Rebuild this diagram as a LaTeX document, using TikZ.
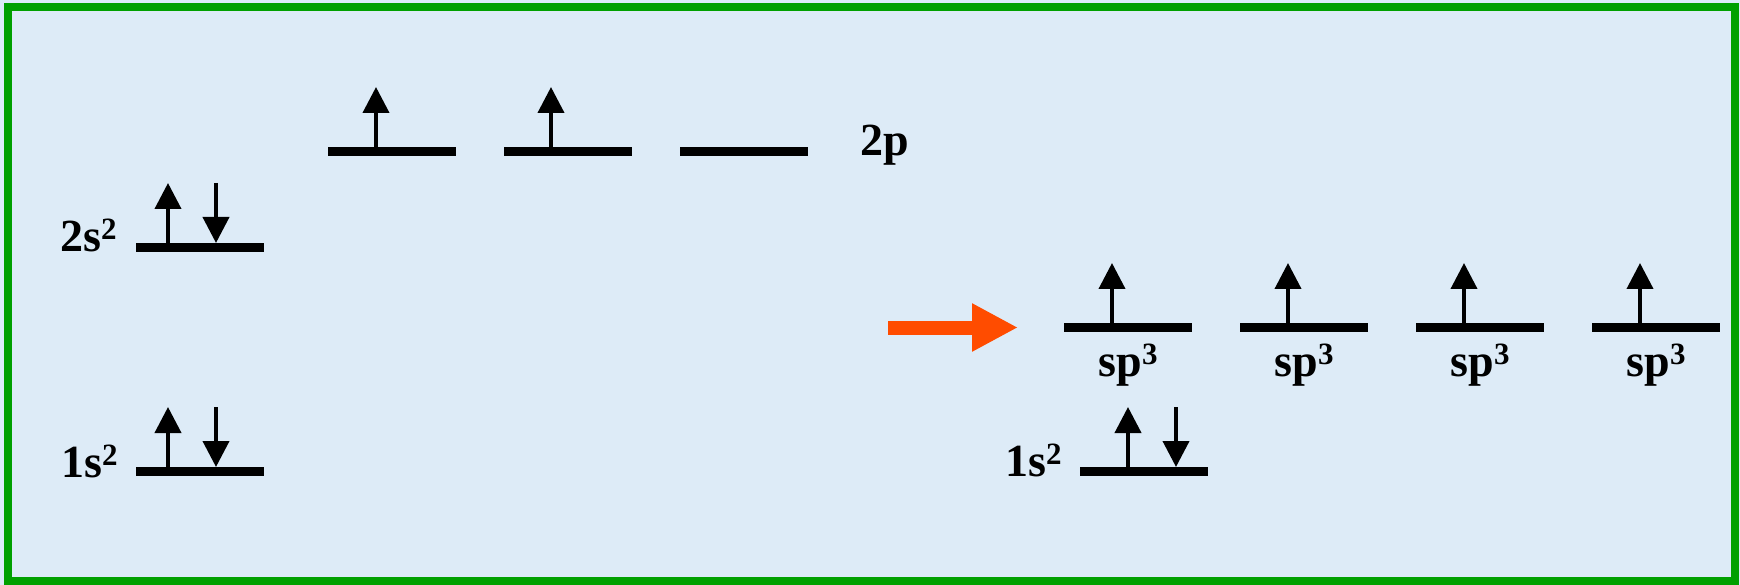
\documentclass[tikz,border=0pt]{standalone}
\usepackage{fontspec}
\setmainfont{Liberation Serif}
\usetikzlibrary{arrows.meta}
\definecolor{bgblue}{RGB}{221,235,247}
\definecolor{framegreen}{RGB}{0,160,0}
\definecolor{orng}{RGB}{255,76,0}
\newcommand{\supr}[1]{{\fontsize{31}{31}\selectfont\raisebox{12pt}{#1}}}
\begin{document}
\begin{tikzpicture}[x=1pt,y=-1pt,
  orbital/.style={line width=9pt},
  electron/.style={line width=4pt,-{Triangle[width=26pt,length=26pt]}},
  lbl/.style={font=\fontsize{46}{54}\selectfont\bfseries, inner sep=0pt, text=black},
]
\useasboundingbox (0,0) rectangle (1740,585);
\fill[bgblue] (0,0) rectangle (1740,585);
\draw[framegreen, line width=8pt] (8,7) rectangle (1735,581);

% left side levels
\draw[orbital] (136,247.5) coordinate (s2L) -- (264,247.5) coordinate (s2R);
\draw[orbital] (136,471.5) coordinate (s1L) -- (264,471.5) coordinate (s1R);
\draw[orbital] (328,151.5) coordinate (pa) -- (456,151.5);
\draw[orbital] (504,151.5) coordinate (pb) -- (632,151.5);
\draw[orbital] (680,151.5) coordinate (pc) -- (808,151.5);

% electrons left
\draw[electron] (168,243) -- (168,183);
\draw[electron] (216,183) -- (216,243);
\draw[electron] (168,467) -- (168,407);
\draw[electron] (216,407) -- (216,467);
\draw[electron] (376,147) -- (376,87);
\draw[electron] (551,147) -- (551,87);

% labels left
\node[lbl, anchor=base west] (l2s) at (60,252) {2s\supr{2}};
\node[lbl, anchor=base west] (l1s) at (61,477) {1s\supr{2}};
\node[lbl, anchor=base west] (l2p) at (860,156) {2p};

% arrow
\draw[orng, line width=14pt, -{Triangle[width=45pt,length=46pt]}] (888,327.5) coordinate (arrA) -- (1018,327.5) coordinate (arrB);

% sp3 levels
\foreach \x/\n in {1064/1,1240/2,1416/3,1592/4}{
  \draw[orbital] (\x,327.5) coordinate (sp\n) -- ({\x+128},327.5);
  \draw[electron] ({\x+48},323) -- ({\x+48},263);
  \node[lbl, anchor=base] (lsp\n) at ({\x+64},376) {sp\supr{3}};
}

% right 1s
\draw[orbital] (1080,471.5) coordinate (r1L) -- (1208,471.5) coordinate (r1R);
\draw[electron] (1128,467) -- (1128,407);
\draw[electron] (1176,407) -- (1176,467);
\node[lbl, anchor=base west] (r1s) at (1005,476) {1s\supr{2}};
\end{tikzpicture}
\end{document}
